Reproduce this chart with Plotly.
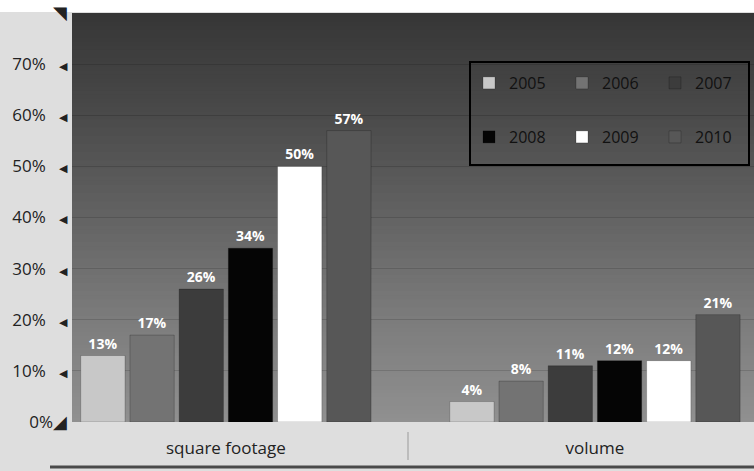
import plotly.graph_objects as go

categories = ["square footage", "volume"]
years = ["2005", "2006", "2007", "2008", "2009", "2010"]
values = {
    "2005": [13, 4],
    "2006": [17, 8],
    "2007": [26, 11],
    "2008": [34, 12],
    "2009": [50, 12],
    "2010": [57, 21],
}
colors = ["#c8c8c8", "#737373", "#3c3c3c", "#050505", "#ffffff", "#575757"]
y_ticks = [0, 10, 20, 30, 40, 50, 60, 70, 80]

fig = go.Figure()
for i, yr in enumerate(years):
    fig.add_trace(go.Bar(
        x=categories, y=values[yr], name=yr,
        marker=dict(color=colors[i], line=dict(color="rgba(0,0,0,0.35)", width=0.6)),
        text=[f"{v}%" for v in values[yr]],
        texttemplate="<b>%{text}</b>",
        textposition="outside",
        textfont=dict(color="white", size=14, family="Open Sans"),
        cliponaxis=False,
        legend="legend" if i < 3 else "legend2",
    ))

# gradient background bands (each covers from its bottom to top so no seams)
stops = [(0, 0x90), (20, 0x7c), (40, 0x63), (60, 0x4a), (80, 0x36)]
def shade(y):
    for (y0, c0), (y1, c1) in zip(stops[:-1], stops[1:]):
        if y0 <= y <= y1:
            return c0 + (c1 - c0) * (y - y0) / (y1 - y0)
    return stops[-1][1]
shapes = []
n = 100
for k in range(n):
    a = 80 * k / n
    b = 80 * (k + 1) / n
    c = int(round(shade((a + b) / 2)))
    col = f"rgb({c},{c},{c})"
    shapes.append(dict(type="rect", xref="paper", yref="y", x0=0, x1=1, y0=a, y1=80,
                       fillcolor=col, line=dict(width=0), layer="below"))

# legend box
shapes.append(dict(type="rect", xref="paper", yref="paper",
                   x0=(470 - 72) / 682, x1=(749 - 72) / 682,
                   y0=(422 - 165) / 409, y1=(422 - 62) / 409,
                   line=dict(color="black", width=2), fillcolor="rgba(0,0,0,0)", layer="above"))
# divider between category labels
shapes.append(dict(type="line", xref="paper", yref="paper",
                   x0=(408 - 72) / 682, x1=(408 - 72) / 682,
                   y0=-(432 - 422) / 409, y1=-(460 - 422) / 409,
                   line=dict(color="#9a9a9a", width=1)))
# bottom dark line
shapes.append(dict(type="line", xref="paper", yref="paper",
                   x0=-(72 - 50) / 682, x1=1,
                   y0=-(467 - 422) / 409, y1=-(467 - 422) / 409,
                   line=dict(color="#4a4a4a", width=3)))
# white strip at top
shapes.append(dict(type="rect", xref="paper", yref="paper",
                   x0=-72 / 682, x1=1, y0=1 + 1 / 409, y1=1 + 14 / 409,
                   fillcolor="white", line=dict(width=0), layer="below"))

tri = "<span style='font-size:11px'>\u25c0</span>"
ticktext = []
for t in y_ticks:
    if t == 0:
        ticktext.append(f"0%<span style='font-size:18px'>\u25e2</span>")
    elif t == 80:
        ticktext.append("<span style='font-size:18px'>\u25e5</span>")
    else:
        ticktext.append(f"{t}%\u00a0\u00a0\u00a0{tri}")

fig.update_layout(
    width=754, height=471,
    margin=dict(l=72, r=0, t=13, b=49, autoexpand=False),
    paper_bgcolor="#dedede",
    plot_bgcolor="#8a8a8a",
    barmode="group", bargap=0.2, bargroupgap=0.1,
    shapes=shapes,
    font=dict(family="Open Sans", color="#222222"),
    xaxis=dict(range=[-0.417, 1.431], showgrid=False, zeroline=False,
               showline=False, ticks="", ticklabelstandoff=14,
               tickfont=dict(size=17, color="#222222")),
    yaxis=dict(range=[0, 80], tickvals=y_ticks, ticktext=ticktext,
               showgrid=True, gridcolor="rgba(0,0,0,0.14)", gridwidth=1,
               zeroline=False, showline=False, ticks="", ticklabelstandoff=4,
               ticklabeloverflow="allow",
               tickfont=dict(size=17, color="#222222")),
    legend=dict(orientation="h", x=(469 - 72) / 682, y=(422 - 83) / 409,
                xanchor="left", yanchor="middle", entrywidth=48,
                bgcolor="rgba(0,0,0,0)", font=dict(size=16, color="#111111"),
                traceorder="normal"),
    legend2=dict(orientation="h", x=(469 - 72) / 682, y=(422 - 137) / 409,
                 xanchor="left", yanchor="middle", entrywidth=48,
                 bgcolor="rgba(0,0,0,0)", font=dict(size=16, color="#111111"),
                 traceorder="normal"),
)

fig.write_html("out.html")
